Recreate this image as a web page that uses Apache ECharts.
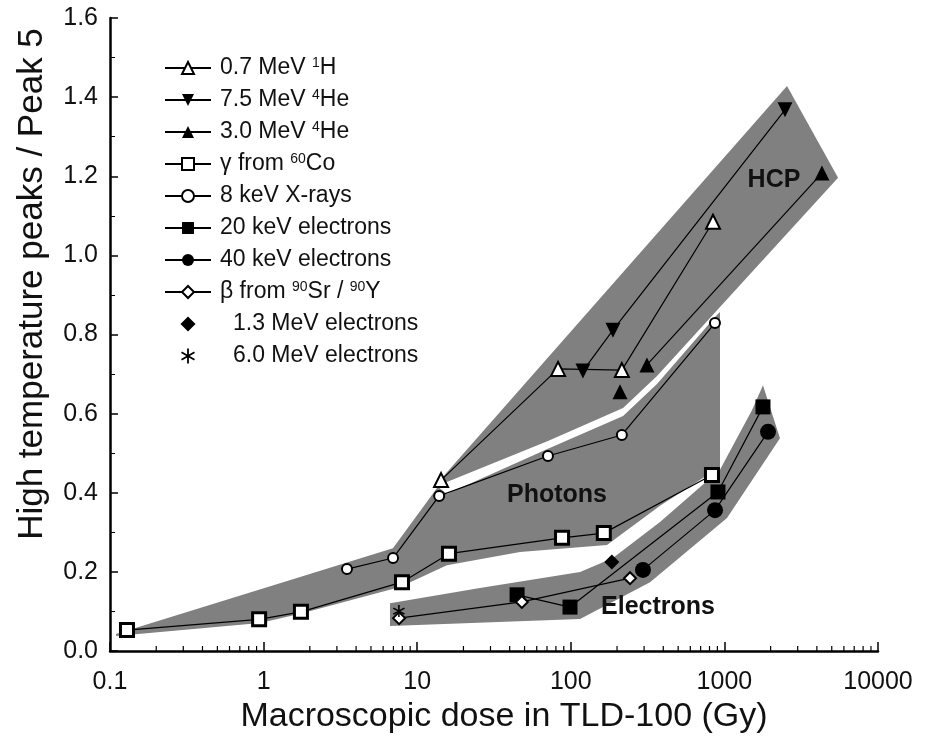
<!DOCTYPE html>
<html><head><meta charset="utf-8">
<script src="https://cdn.jsdelivr.net/npm/echarts@6/dist/echarts.min.js"></script>
<style>html,body{margin:0;padding:0;background:#fff}#c{width:926px;height:748px}</style>
</head><body><div id="c"></div>
<script>
// ---------- data ----------
const xTickLabels = ['0.1', '1', '10', '100', '1000', '10000'];
const yTickLabels = ['0.0', '0.2', '0.4', '0.6', '0.8', '1.0', '1.2', '1.4', '1.6'];
const xMinorTicks = [0.2,0.3,0.4,0.5,0.6,0.7,0.8,0.9, 2,3,4,5,6,7,8,9, 20,30,40,50,60,70,80,90,
  200,300,400,500,600,700,800,900, 2000,3000,4000,5000,6000,7000,8000,9000];

const seriesNames = ['0.7 MeV 1H', '7.5 MeV 4He', '3.0 MeV 4He', 'γ from 60Co', '8 keV X-rays',
  '20 keV electrons', '40 keV electrons', 'β from 90Sr / 90Y', '1.3 MeV electrons', '6.0 MeV electrons'];
const legendLabels = ['0.7 MeV {sup|1}H', '7.5 MeV {sup|4}He', '3.0 MeV {sup|4}He', 'γ from {sup|60}Co', '8 keV X-rays',
  '20 keV electrons', '40 keV electrons', 'β from {sup|90}Sr / {sup|90}Y', '{gap| }1.3 MeV electrons', '{gap| }6.0 MeV electrons'];

const proton07 = [[14.3, 0.432], [82.6, 0.713], [215, 0.710], [843, 1.085]];
const helium75 = [[120, 0.708], [188, 0.811], [2480, 1.368]];
const helium30Line = [[313, 0.723], [4316, 1.208]];
const helium30Single = [[209, 0.655]];
const gammaCo60 = [[0.129, 0.053], [0.935, 0.080], [1.75, 0.099], [7.96, 0.174], [16.1, 0.246], [87.7, 0.286], [164, 0.298], [830, 0.445]];
const xray8keV = [[3.49, 0.207], [6.96, 0.235], [13.9, 0.392], [71, 0.493], [215, 0.546], [868, 0.829]];
const elec20keV = [[44.7, 0.142], [98.8, 0.111], [908, 0.402], [1783, 0.617]];
const elec40keV = [[295, 0.205], [869, 0.356], [1923, 0.554]];
const betaSrY = [[7.62, 0.083], [48, 0.124], [243, 0.184]];
const elec13MeV = [[185, 0.225]];
const elec60MeV = [[7.6, 0.101]];

// shaded regions (data coordinates)
const hcpBand = [[14.1, 0.432], [2557, 1.428], [5495, 1.196], [364, 0.695], [219, 0.614], [71, 0.531], [15.6, 0.427]];
const photonBand = [[0.1094, 0.043], [6.95, 0.260], [13.65, 0.415], [15.6, 0.397], [71, 0.511], [219, 0.594], [364, 0.675],
  [881, 0.847], [936, 0.857], [936, 0.465], [381, 0.367], [172, 0.268], [46.7, 0.250], [15.6, 0.217], [7.73, 0.162],
  [1.73, 0.094], [0.948, 0.071], [0.1094, 0.038]];
const electronBand = [[1783, 0.672], [2301, 0.538], [1040, 0.336], [328, 0.174], [115, 0.081], [6.65, 0.063], [6.65, 0.121],
  [25.6, 0.159], [115, 0.200], [188, 0.235], [381, 0.326], [936, 0.458], [1514, 0.609]];

// ---------- chart ----------
const FONT = '"Liberation Sans", Arial, Helvetica, sans-serif';
const BLACK = '#000';
const GRAY = '#808080';
const ASTERISK = 'path://M-0.6,-5L0.6,-5L0.6,5L-0.6,5Z M-4.03,-3.02L4.63,1.98L4.03,3.02L-4.63,-1.98Z M-4.63,1.98L4.03,-3.02L4.63,-1.98L-4.03,3.02Z';
const DIAMOND = 'path://M0,-6L6,0L0,6L-6,0Z';

function lineS(name, data, symbol, size, filled, extra) {
  return Object.assign({
    name: name, type: 'line', data: data, symbol: symbol, symbolSize: size,
    lineStyle: { color: BLACK, width: 1.2 },
    itemStyle: { color: filled ? BLACK : '#fff', borderColor: BLACK, borderWidth: filled ? 0 : 2 },
    z: 3, animation: false, emphasis: { disabled: true }
  }, extra || {});
}
function scatterS(name, data, symbol, size, filled, extra) {
  return Object.assign({
    name: name, type: 'scatter', data: data, symbol: symbol, symbolSize: size,
    itemStyle: { color: filled ? BLACK : '#fff', borderColor: BLACK, borderWidth: filled ? 0 : 2, opacity: 1 },
    z: 4, animation: false, emphasis: { disabled: true }
  }, extra || {});
}
function bandS(pts) {
  return {
    type: 'custom', silent: true, z: 1, clip: false, animation: false,
    data: pts, encode: { x: 0, y: 1 },
    renderItem: function (params, api) {
      if (params.dataIndex !== 0) return null;
      return { type: 'polygon', shape: { points: pts.map(function (p) { return api.coord(p); }) }, style: { fill: GRAY } };
    }
  };
}

const legendData = seriesNames.map(function (n, i) {
  if (i === 8) return { name: n, icon: DIAMOND };
  if (i === 9) return { name: n, icon: ASTERISK };
  return { name: n };
});

const labelStyle = { fontSize: 25, fontWeight: 'bold', fontFamily: FONT, fill: '#111', align: 'center', verticalAlign: 'middle' };

const chart = echarts.init(document.getElementById('c'), null, { renderer: 'canvas' });
chart.setOption({
  backgroundColor: '#fff',
  animation: false,
  textStyle: { fontFamily: FONT },
  grid: { left: 110, right: 48, top: 18, bottom: 97, containLabel: false },
  xAxis: {
    type: 'log', logBase: 10, min: 0.1, max: 10000, splitNumber: 5,
    name: 'Macroscopic dose in TLD-100 (Gy)', nameLocation: 'middle', nameGap: 48,
    nameTextStyle: { fontSize: 34, color: '#111', fontFamily: FONT, padding: [0, 0, 0, 20] },
    axisLine: { lineStyle: { color: BLACK, width: 2.5 } },
    axisTick: { inside: true, length: 9, lineStyle: { color: BLACK, width: 1.5 } },
    axisLabel: {
      fontSize: 25, color: '#111', margin: 19, fontFamily: FONT,
      formatter: function (v) { return xTickLabels[Math.round(Math.log10(v)) + 1]; }
    },
    splitLine: { show: false }
  },
  yAxis: {
    type: 'value', min: 0, max: 1.6, interval: 0.2,
    axisLine: { show: true, lineStyle: { color: BLACK, width: 2.5 } },
    axisTick: { show: true, inside: true, length: 8, lineStyle: { color: BLACK, width: 1.5 } },
    minorTick: { show: true, splitNumber: 2, length: 5, lineStyle: { color: BLACK, width: 1 } },
    axisLabel: {
      fontSize: 25, color: '#111', margin: 12, fontFamily: FONT,
      formatter: function (v) { return yTickLabels[Math.round(v / 0.2)]; }
    },
    splitLine: { show: false }, minorSplitLine: { show: false }
  },
  legend: {
    data: legendData, orient: 'vertical', left: 159, top: 51,
    itemWidth: 46, itemHeight: 15, itemGap: 8, selectedMode: false, symbolKeepAspect: true,
    formatter: function (name) { return legendLabels[seriesNames.indexOf(name)]; },
    textStyle: {
      fontSize: 23, color: '#111', fontFamily: FONT, lineHeight: 24, padding: [0, 0, 0, 4],
      rich: {
        sup: { fontSize: 14, fontFamily: FONT, color: '#111', padding: [0, 0, 10, 0] },
        gap: { width: 13, fontSize: 23 }
      }
    }
  },
  graphic: [
    { type: 'text', x: 32, y: 284, rotation: Math.PI / 2, z: 10,
      style: { text: 'High temperature peaks / Peak 5', fontSize: 35, fontFamily: FONT, fill: '#111', align: 'center', verticalAlign: 'middle' } },
    { type: 'text', x: 774, y: 180, z: 10, style: Object.assign({ text: 'HCP' }, labelStyle) },
    { type: 'text', x: 557, y: 495, z: 10, style: Object.assign({ text: 'Photons' }, labelStyle) },
    { type: 'text', x: 658, y: 607, z: 10, style: Object.assign({ text: 'Electrons' }, labelStyle) }
  ],
  series: [
    bandS(hcpBand), bandS(photonBand), bandS(electronBand),
    {
      type: 'custom', silent: true, z: 6, clip: false, animation: false,
      data: xMinorTicks.map(function (v) { return [v, 0]; }), encode: { x: 0, y: 1 },
      renderItem: function (params, api) {
        const c = api.coord([api.value(0), 0]);
        return { type: 'line', shape: { x1: c[0], y1: c[1], x2: c[0], y2: c[1] - 5 }, style: { stroke: BLACK, lineWidth: 1.2 } };
      }
    },
    lineS(seriesNames[0], proton07, 'triangle', 14, false),
    lineS(seriesNames[1], helium75, 'triangle', 15, true, { symbolRotate: 180 }),
    lineS(seriesNames[2], helium30Line, 'triangle', 15, true),
    scatterS(seriesNames[2], helium30Single, 'triangle', 15, true),
    lineS(seriesNames[3], gammaCo60, 'rect', 13, false, { itemStyle: { color: '#fff', borderColor: BLACK, borderWidth: 3 } }),
    lineS(seriesNames[4], xray8keV, 'circle', 10, false),
    lineS(seriesNames[5], elec20keV, 'rect', 15, true),
    lineS(seriesNames[6], elec40keV, 'circle', 16, true),
    lineS(seriesNames[7], betaSrY, 'diamond', 12, false),
    scatterS(seriesNames[8], elec13MeV, 'diamond', 15, true),
    scatterS(seriesNames[9], elec60MeV, ASTERISK, 12, true)
  ]
});
</script>
</body></html>
